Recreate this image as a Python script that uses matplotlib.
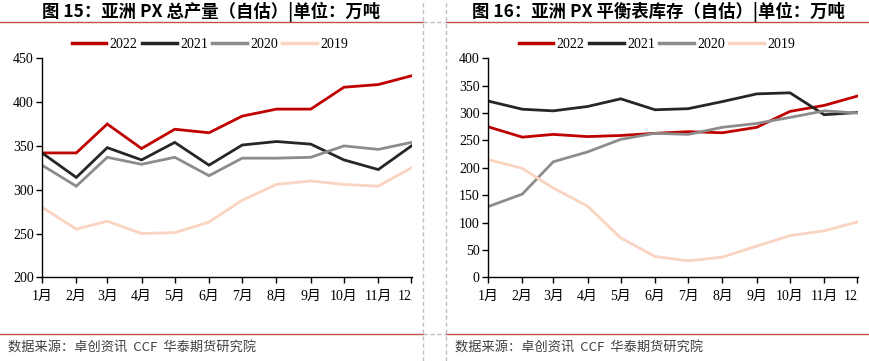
import matplotlib
matplotlib.use("Agg")
import matplotlib.pyplot as plt
from matplotlib.lines import Line2D
from matplotlib.transforms import Bbox, TransformedBbox

plt.rcParams["font.family"] = ["Liberation Serif", "Noto Sans CJK SC", "DejaVu Sans"]

# month labels and start-of-month day offsets (axis is date based)
months = ["1月", "2月", "3月", "4月", "5月", "6月", "7月", "8月", "9月", "10月", "11月", "12月"]
month_day = [0, 31, 59, 90, 120, 151, 181, 212, 243, 273, 304, 334]
years = ["2022", "2021", "2020", "2019"]

# 图15 亚洲PX总产量
prod_2022 = [342, 342, 375, 347, 369, 365, 384, 392, 392, 417, 420, 430]
prod_2021 = [342, 314, 348, 334, 354, 328, 351, 355, 352, 334, 323, 350]
prod_2020 = [328, 304, 337, 329, 337, 316, 336, 336, 337, 350, 346, 354]
prod_2019 = [280, 255, 264, 250, 251, 263, 288, 306, 310, 306, 304, 325]

# 图16 亚洲PX平衡表库存
inv_2022 = [275, 256, 261, 257, 259, 263, 266, 264, 274, 303, 314, 331]
inv_2021 = [322, 307, 304, 312, 326, 306, 308, 321, 335, 337, 297, 301]
inv_2020 = [129, 152, 211, 229, 252, 263, 261, 274, 281, 292, 304, 300]
inv_2019 = [215, 199, 163, 130, 72, 38, 30, 37, 57, 76, 85, 101]

colors = ["#C00000", "#262626", "#8C8C8C", "#FBD3C1"]

W, H = 870, 361
fig = plt.figure(figsize=(W / 100, H / 100), dpi=100)


def px_box(x0, y0, x1, y1):
    # pixel box (top-left origin) -> figure fraction rect
    return [x0 / W, 1 - y1 / H, (x1 - x0) / W, (y1 - y0) / H]


def panel(rect, series, ylim, yticks, title, title_x, leg_x, clip_right):
    ax = fig.add_axes(rect)
    for s, c in zip(series, colors):
        ax.plot(month_day, s, color=c, lw=2.0, solid_joinstyle="miter")
    ax.set_xlim(0, 334.5)
    ax.set_ylim(*ylim)
    ax.set_yticks(yticks)
    ax.set_xticks(month_day)
    ax.set_xticklabels(months)
    for sp in ["top", "right"]:
        ax.spines[sp].set_visible(False)
    for sp in ["left", "bottom"]:
        ax.spines[sp].set_linewidth(1.0)
    ax.tick_params(axis="both", direction="out", length=4, width=1.0,
                   labelsize=10, colors="black", pad=2)
    ax.tick_params(axis="x", pad=5)
    clip = TransformedBbox(Bbox([[0, 0], [clip_right / W, 1]]), fig.transFigure)
    for lab in ax.get_xticklabels():
        lab.set_clip_box(clip)
        lab.set_clip_on(True)
    fig.text(title_x / W, 1 - 12 / H, title, ha="center", va="center",
             fontsize=12.5, fontweight="bold",
             family=["Noto Sans CJK SC", "DejaVu Sans"])
    handles = [Line2D([], [], color=c, lw=2.5) for c in colors]
    fig.legend(handles, years, loc="center", bbox_to_anchor=(leg_x / W, 1 - 44 / H),
               ncol=4, frameon=False, fontsize=10, handlelength=2.5,
               handletextpad=0.25, columnspacing=0.3)
    return ax


panel(px_box(42, 58.3, 412, 277.3),
      [prod_2022, prod_2021, prod_2020, prod_2019],
      (200, 450), range(200, 451, 50),
      "图 15：亚洲 PX 总产量（自估）|单位：万吨", 211, 210, 412)
panel(px_box(488, 58.3, 858, 277.3),
      [inv_2022, inv_2021, inv_2020, inv_2019],
      (0, 400), range(0, 401, 50),
      "图 16：亚洲 PX 平衡表库存（自估）|单位：万吨", 658, 657, 858)

# frame lines: red rules under titles and above source, dashed separators
red = "#C0504D"
dash = dict(color="#BFBFBF", lw=1.0, ls=(0, (3, 2)))
for y in [22, 334]:
    fig.add_artist(Line2D([0, 423 / W], [1 - y / H] * 2, color=red, lw=1.0))
    fig.add_artist(Line2D([446 / W, 1], [1 - y / H] * 2, color=red, lw=1.0))
    fig.add_artist(Line2D([423 / W, 446 / W], [1 - y / H] * 2, **dash))
for x in [423, 446]:
    fig.add_artist(Line2D([x / W] * 2, [0, 1], **dash))

src = "数据来源：卓创资讯  CCF  华泰期货研究院"
for x in [8, 455]:
    fig.text(x / W, 1 - 348 / H, src, ha="left", va="center", fontsize=9.5,
             color="#404040", family=["Noto Sans CJK SC", "DejaVu Sans"])

fig.savefig("out.png", dpi=100)
